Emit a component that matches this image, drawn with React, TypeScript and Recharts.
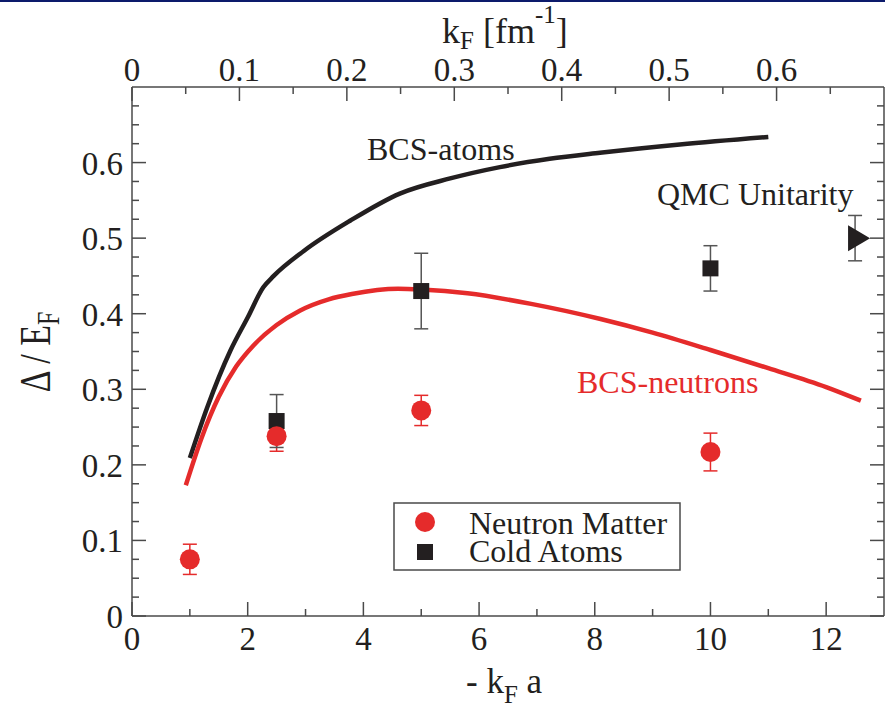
import React from "react";
import { ComposedChart, Line, Scatter, XAxis, YAxis, ErrorBar } from "recharts";

// BCS curves
const atomsCurveX = [1.0, 1.3, 1.7, 2.0, 2.27, 2.45, 2.97, 3.77, 4.63, 5.5, 6.36, 7.22, 8.09, 9.47, 11.0];
const atomsCurveY = [0.209, 0.276, 0.351, 0.395, 0.435, 0.45, 0.483, 0.523, 0.559, 0.579, 0.594, 0.605, 0.613, 0.624, 0.634];

const neutronCurveX = [0.93, 1.2, 1.5, 1.8, 2.1, 2.5, 2.9, 3.4, 3.8, 4.6, 5.0, 5.8, 6.9, 8.1, 9.0, 10.0, 11.0, 12.0, 12.6];
const neutronCurveY = [0.173, 0.235, 0.29, 0.33, 0.358, 0.385, 0.404, 0.419, 0.426, 0.433, 0.432, 0.427, 0.413, 0.393, 0.375, 0.352, 0.328, 0.303, 0.285];

// QMC results
const neutronX = [1, 2.5, 5, 10];
const neutronY = [0.075, 0.238, 0.272, 0.217];
const neutronErr = [0.02, 0.02, 0.02, 0.025];

const atomsX = [2.5, 5, 10];
const atomsY = [0.258, 0.43, 0.46];
const atomsErr = [0.035, 0.05, 0.03];

const unitarityX = [12.5];
const unitarityY = [0.5];
const unitarityErr = [0.03];

// ticks
const bottomMajor = [0, 2, 4, 6, 8, 10, 12];
const bottomMinor = [1, 3, 5, 7, 9, 11];
const topMajor = [0, 0.1, 0.2, 0.3, 0.4, 0.5, 0.6];
const topLabels = ["0", "0.1", "0.2", "0.3", "0.4", "0.5", "0.6"];
const topMinor = [0.05, 0.15, 0.25, 0.35, 0.45, 0.55, 0.65];
const yMajor = [0, 0.1, 0.2, 0.3, 0.4, 0.5, 0.6];
const yLabels = ["0", "0.1", "0.2", "0.3", "0.4", "0.5", "0.6"];
const yMinor = [
  0.025, 0.05, 0.075, 0.125, 0.15, 0.175, 0.225, 0.25, 0.275, 0.325, 0.35, 0.375,
  0.425, 0.45, 0.475, 0.525, 0.55, 0.575, 0.625, 0.65, 0.675,
];

const RED = "#e52b2b";
const INK = "#231f20";
const AXIS = "#4a4a4a";
const FONT = "'Liberation Serif', 'DejaVu Serif', serif";

const zip = (xs: number[], ys: number[], es?: number[]) =>
  xs.map((x, i) => ({ x, y: ys[i], err: es ? es[i] : 0 }));

const atomsCurve = zip(atomsCurveX, atomsCurveY);
const neutronCurve = zip(neutronCurveX, neutronCurveY);
const neutronPts = zip(neutronX, neutronY, neutronErr);
const atomsPts = zip(atomsX, atomsY, atomsErr);
const unitarityPts = zip(unitarityX, unitarityY, unitarityErr);

const sorted = (a: number[], b: number[]) => [...a, ...b].sort((p, q) => p - q);
const isIn = (list: number[], v: number) => list.findIndex(m => Math.abs(m - v) < 1e-9);

type Side = "left" | "right" | "top" | "bottom";

function AxisTick(props: any) {
  const { x = 0, y = 0, payload, side, majors, labels } = props as {
    x: number; y: number; payload: { value: number }; side: Side; majors: number[]; labels?: string[];
  };
  const idx = isIn(majors, payload.value);
  const len = idx >= 0 ? 14 : 7;
  const label = idx >= 0 && labels ? labels[idx] : null;
  const txt = { fill: INK, fontFamily: FONT, fontSize: 33, stroke: "none" };
  let line;
  let text = null;
  if (side === "left") {
    line = <line x1={x} y1={y} x2={x + len} y2={y} />;
    if (label) text = <text {...txt} x={x - 9} y={y + 12} textAnchor="end">{label}</text>;
  } else if (side === "right") {
    line = <line x1={x} y1={y} x2={x - len} y2={y} />;
  } else if (side === "bottom") {
    line = <line x1={x} y1={y} x2={x} y2={y - len} />;
    if (label) text = <text {...txt} x={x} y={y + 34} textAnchor="middle">{label}</text>;
  } else {
    line = <line x1={x} y1={y} x2={x} y2={y + len} />;
    if (label) text = <text {...txt} x={x} y={y - 6} textAnchor="middle">{label}</text>;
  }
  return (
    <g>
      <g stroke={AXIS} strokeWidth={1.5}>{line}</g>
      {text}
    </g>
  );
}

const Circle = (p: any) => <circle cx={p.cx} cy={p.cy} r={10} fill={RED} />;
const Square = (p: any) => <rect x={p.cx - 8} y={p.cy - 8} width={16} height={16} fill={INK} />;
const Triangle = (p: any) => (
  <polygon points={`${p.cx - 7},${p.cy - 13} ${p.cx + 15},${p.cy} ${p.cx - 7},${p.cy + 13}`} fill={INK} />
);
const Nothing = () => <g />;

export default function App() {
  const axisLine = { stroke: AXIS, strokeWidth: 1.5 };
  return (
    <div style={{ position: "fixed", left: 0, top: 0, width: 885, height: 705, overflow: "hidden", background: "#fff" }}>
      <ComposedChart
        width={885}
        height={705}
        margin={{ top: 86, right: 0, bottom: 88, left: 131 }}
      >
        <XAxis
          xAxisId="kfa"
          type="number"
          dataKey="x"
          domain={[0, 13]}
          allowDataOverflow
          ticks={sorted(bottomMajor, bottomMinor)}
          interval={0}
          height={1}
          tickSize={0}
          tickMargin={0}
          tickLine={false}
          axisLine={axisLine}
          tick={(p: any) => <AxisTick {...p} side="bottom" majors={bottomMajor} labels={bottomMajor.map(String)} />}
        />
        <XAxis
          xAxisId="kf"
          orientation="top"
          type="number"
          dataKey="x"
          domain={[0, 0.7]}
          allowDataOverflow
          ticks={sorted(topMajor, topMinor)}
          interval={0}
          height={1}
          tickSize={0}
          tickMargin={0}
          tickLine={false}
          axisLine={axisLine}
          tick={(p: any) => <AxisTick {...p} side="top" majors={topMajor} labels={topLabels} />}
        />
        <YAxis
          yAxisId="gap"
          type="number"
          dataKey="y"
          domain={[0, 0.7]}
          allowDataOverflow
          ticks={sorted(yMajor, yMinor)}
          interval={0}
          width={1}
          tickSize={0}
          tickMargin={0}
          tickLine={false}
          axisLine={axisLine}
          tick={(p: any) => <AxisTick {...p} side="left" majors={yMajor} labels={yLabels} />}
        />
        <YAxis
          yAxisId="gapR"
          orientation="right"
          type="number"
          dataKey="y"
          domain={[0, 0.7]}
          allowDataOverflow
          ticks={sorted(yMajor, yMinor)}
          interval={0}
          width={1}
          tickSize={0}
          tickMargin={0}
          tickLine={false}
          axisLine={axisLine}
          tick={(p: any) => <AxisTick {...p} side="right" majors={yMajor} />}
        />

        <Line xAxisId="kfa" yAxisId="gap" data={atomsCurve} dataKey="y" type="monotone"
          stroke={INK} strokeWidth={4.5} dot={false} isAnimationActive={false} />
        <Line xAxisId="kfa" yAxisId="gap" data={neutronCurve} dataKey="y" type="monotone"
          stroke={RED} strokeWidth={4.5} dot={false} isAnimationActive={false} />

        <Scatter xAxisId="kfa" yAxisId="gap" data={atomsPts} dataKey="y" shape={Square} isAnimationActive={false} />
        <Scatter xAxisId="kfa" yAxisId="gap" data={neutronPts} dataKey="y" shape={Circle} isAnimationActive={false}>
          <ErrorBar dataKey="err" direction="y" width={7} stroke={RED} strokeWidth={1.5} isAnimationActive={false} />
        </Scatter>
        <Scatter xAxisId="kfa" yAxisId="gap" data={atomsPts} dataKey="y" shape={Nothing} isAnimationActive={false}>
          <ErrorBar dataKey="err" direction="y" width={7} stroke="#555" strokeWidth={1.5} isAnimationActive={false} />
        </Scatter>
        <Scatter xAxisId="kfa" yAxisId="gap" data={unitarityPts} dataKey="y" shape={Triangle} isAnimationActive={false}>
          <ErrorBar dataKey="err" direction="y" width={7} stroke="#555" strokeWidth={1.5} isAnimationActive={false} />
        </Scatter>
      </ComposedChart>

      <svg width={885} height={705} style={{ position: "absolute", left: 0, top: 0, pointerEvents: "none" }}
        fontFamily={FONT}>
        <rect x={0} y={0} width={885} height={2} fill="#0c1a6b" />

        {/* axis titles */}
        <text x={442} y={43} fontSize={36} fill={INK}>
          k<tspan fontSize={25} dy={6}>F</tspan>
          <tspan dy={-6}> [fm</tspan>
          <tspan fontSize={25} dy={-20}>-1</tspan>
          <tspan dy={20}>]</tspan>
        </text>
        <text x={466} y={693} fontSize={35} fill={INK}>
          - k<tspan fontSize={25} dy={10}>F</tspan><tspan dy={-10}> a</tspan>
        </text>
        <g transform="translate(50 352) rotate(-90) scale(1 1.3)">
          <text x={0} y={0} fontSize={34} fill={INK} textAnchor="middle">
            Δ / E<tspan fontSize={24} dy={7}>F</tspan>
          </text>
        </g>

        {/* curve labels */}
        <text x={367} y={160} fontSize={32} fill={INK}>BCS-atoms</text>
        <text x={577} y={393} fontSize={32} fill={RED}>BCS-neutrons</text>
        <text x={657} y={205} fontSize={32} fill={INK}>QMC Unitarity</text>

        {/* legend */}
        <rect x={394} y={503} width={286} height={67} fill="#fff" stroke={AXIS} strokeWidth={1.5} />
        <circle cx={425} cy={522} r={10} fill={RED} />
        <rect x={417} y={544} width={16} height={16} fill={INK} />
        <text x={469} y={534} fontSize={32} fill={INK}>Neutron Matter</text>
        <text x={469} y={562} fontSize={32} fill={INK}>Cold Atoms</text>
      </svg>
    </div>
  );
}
